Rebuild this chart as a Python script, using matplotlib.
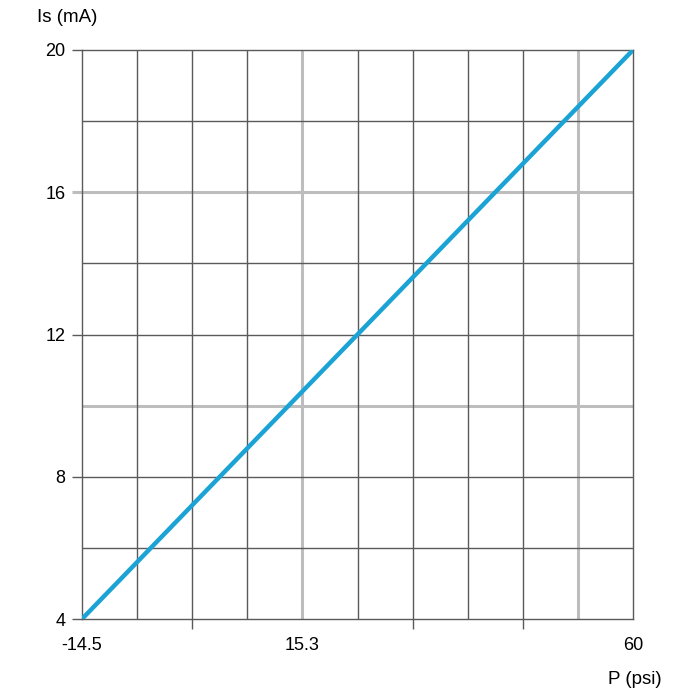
import matplotlib
matplotlib.use("Agg")
import matplotlib.pyplot as plt
import numpy as np

# Data
pressure_psi = [-14.5, 60]
current_mA = [4, 20]

x_tick_values = [-14.5, 15.3, 60]
x_tick_labels = ["-14.5", "15.3", "60"]
y_tick_values = [4, 8, 12, 16, 20]
y_tick_labels = ["4", "8", "12", "16", "20"]

x_min, x_max, x_divs = -14.5, 60, 10
y_min, y_max, y_divs = 4, 20, 8
x_gray_divs = [4, 9]
y_gray_values = [10, 16]
x_bottom_tick_divs = [0, 2, 6, 8, 10]

dark = "#5a5a5a"
light = "#bdbdbd"
blue = "#1ba3d6"

plt.rcParams['font.family'] = ['Liberation Sans', 'DejaVu Sans']

fig = plt.figure(figsize=(7, 7), dpi=100)
ax = fig.add_axes([82/700, 1-619/700, 551/700, 569/700])
ax.set_xlim(x_min, x_max)
ax.set_ylim(y_min, y_max)

step_x = (x_max - x_min) / x_divs
step_y = (y_max - y_min) / y_divs
for i in range(1, x_divs):
    xv = x_min + i * step_x
    if i in x_gray_divs:
        ax.axvline(xv, color=light, lw=2.2, zorder=1)
    else:
        ax.axvline(xv, color=dark, lw=1.0, zorder=2)
for j in range(1, y_divs):
    yv = y_min + j * step_y
    if any(abs(yv - g) < 1e-6 for g in y_gray_values):
        ax.axhline(yv, color=light, lw=2.2, zorder=1)
    else:
        ax.axhline(yv, color=dark, lw=1.0, zorder=2)

for s in ax.spines.values():
    s.set_color(dark)
    s.set_linewidth(1.0)

ax.plot(pressure_psi, current_mA, color=blue, lw=3.2, zorder=5, solid_capstyle='butt')

# y ticks
ax.set_yticks(y_tick_values)
ax.set_yticklabels(y_tick_labels)
ax.tick_params(axis='y', length=7, width=1.0, color=dark, pad=5, labelsize=13)
for t, v in zip(ax.yaxis.get_major_ticks(), y_tick_values):
    if v in y_gray_values:
        t.tick1line.set_markeredgecolor(light)
        t.tick1line.set_markeredgewidth(2.2)

# x ticks
ax.set_xticks(x_tick_values)
ax.set_xticklabels(x_tick_labels)
ax.tick_params(axis='x', which='major', length=0, pad=13, labelsize=13)
ax.set_xticks([x_min + d * step_x for d in x_bottom_tick_divs], minor=True)
ax.tick_params(axis='x', which='minor', length=7, width=1.0, color=dark)
ax.tick_params(axis='y', which='minor', left=False)

fig.text(37/700, 1-18/700, "Is (mA)", ha='left', va='center', fontsize=13.5)
fig.text(608/700, 1-680/700, "P (psi)", ha='left', va='center', fontsize=13.5)

fig.savefig("out.png", dpi=100, facecolor='white')
